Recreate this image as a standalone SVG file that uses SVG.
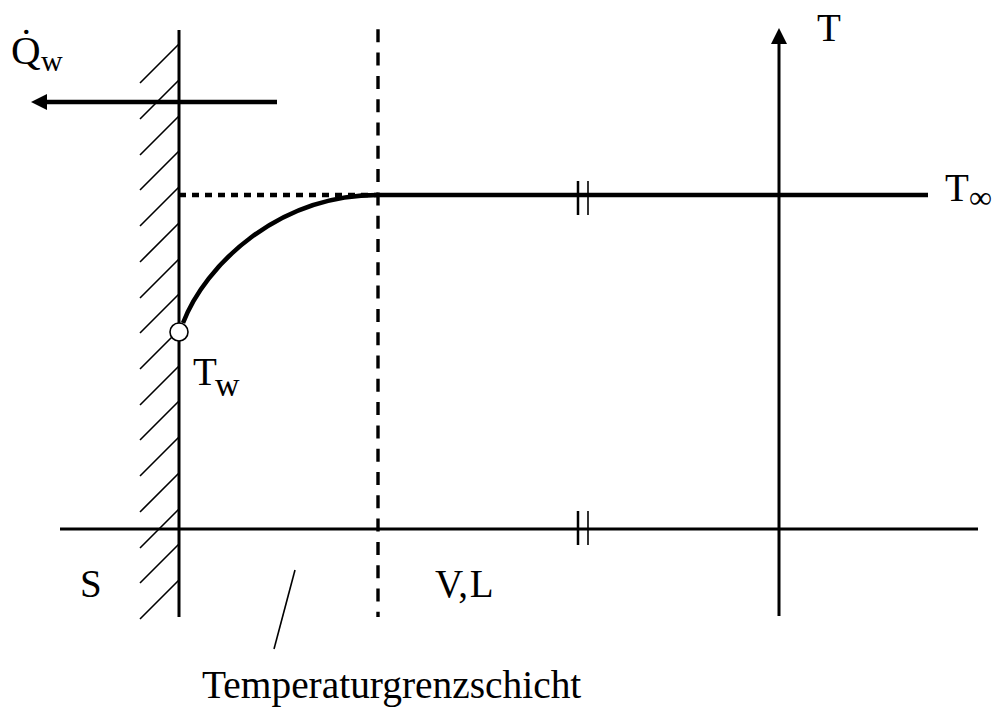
<svg xmlns="http://www.w3.org/2000/svg" width="998" height="707" viewBox="0 0 998 707">
<style>
.t{font-family:"Liberation Serif","Times New Roman",serif;fill:#000}
.ln{stroke:#000;fill:none}
</style>
<rect width="998" height="707" fill="#fff"/>
<g id="wall">
<path class="ln" stroke-width="1.6" d="M140,83 L179,44 M140,119 L179,80 M140,155 L179,116 M140,190 L179,151 M140,226 L179,187 M140,262 L179,223 M140,298 L179,259 M140,333 L179,294 M140,369 L179,330 M140,405 L179,366 M140,440 L179,401 M140,476 L179,437 M140,512 L179,473 M140,548 L179,509 M140,583 L179,544 M140,619 L179,580"/>
<line class="ln" x1="179" y1="30" x2="179" y2="617" stroke-width="3"/>
</g>
<g id="connectors">
<line class="ln" x1="277" y1="102" x2="46" y2="102" stroke-width="4.5"/>
<path d="M31,102 L47,94 L47,110 Z" fill="#000"/>
<line class="ln" x1="60" y1="529" x2="978" y2="529" stroke-width="3"/>
<line class="ln" x1="779" y1="616" x2="779" y2="42" stroke-width="3"/>
<path d="M779,28 L771,44 L787,44 Z" fill="#000"/>
<line class="ln" x1="378" y1="29.3" x2="378" y2="617" stroke-width="3.4" stroke-dasharray="13 10.3"/>
<line class="ln" x1="179" y1="195" x2="378" y2="195" stroke-width="4.5" stroke-dasharray="7 6"/>
<line class="ln" x1="378" y1="195" x2="928" y2="195" stroke-width="4.5"/>
<path class="ln" stroke-width="4.5" d="M183,323 C205,265 278,195 378,195"/>
<line class="ln" x1="578" y1="181" x2="578" y2="215" stroke-width="2.5"/>
<line class="ln" x1="588" y1="181" x2="588" y2="215" stroke-width="1.6"/>
<line class="ln" x1="578" y1="511" x2="578" y2="545" stroke-width="2.5"/>
<line class="ln" x1="588" y1="511" x2="588" y2="545" stroke-width="1.6"/>
<line class="ln" x1="295" y1="570" x2="274" y2="649" stroke-width="1.6"/>
</g>
<g id="Tw-point">
<circle cx="179" cy="332" r="9" fill="#fff" stroke="#000" stroke-width="1.6"/>
</g>
<g id="labels">
<text class="t" x="11" y="64" font-size="41">Q̇</text>
<text class="t" x="41" y="71" font-size="30">w</text>
<text class="t" x="817" y="41" font-size="39">T</text>
<text class="t" x="945" y="201" font-size="39">T</text>
<text class="t" x="969" y="208" font-size="32">∞</text>
<text class="t" x="193" y="385" font-size="39">T</text>
<text class="t" x="215" y="396" font-size="34">w</text>
<text class="t" x="80" y="597" font-size="39">S</text>
<text class="t" x="435" y="597" font-size="39" word-spacing="-8">V, L</text>
<text class="t" x="202" y="698" font-size="39.4">Temperaturgrenzschicht</text>
</g>
</svg>
